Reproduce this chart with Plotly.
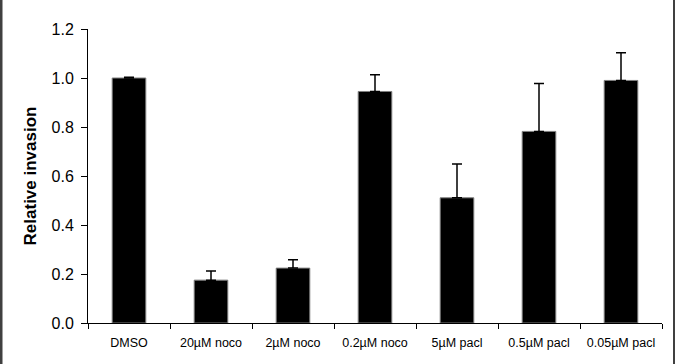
import plotly.graph_objects as go

categories = ["DMSO", "20µM noco", "2µM noco", "0.2µM noco", "5µM pacl", "0.5µM pacl", "0.05µM pacl"]
values = [1.0, 0.175, 0.224, 0.945, 0.511, 0.782, 0.99]
errors = [0.003, 0.037, 0.034, 0.068, 0.138, 0.196, 0.113]
y_ticks = [0.0, 0.2, 0.4, 0.6, 0.8, 1.0, 1.2]
y_tick_labels = ["0.0", "0.2", "0.4", "0.6", "0.8", "1.0", "1.2"]

W, H = 676, 364
ml, mr, mt, mb = 88, 14, 29, 41
pw = W - ml - mr
ph = H - mt - mb

fig = go.Figure()
fig.add_trace(go.Bar(
    x=categories, y=values,
    marker=dict(color="black", line=dict(color="#7f7f7f", width=1)),
    error_y=dict(type="data", array=errors, arrayminus=[0]*len(errors), symmetric=False,
                 color="black", thickness=1.5, width=5),
    width=0.41,
))

fig.update_layout(
    width=W, height=H,
    margin=dict(l=ml, r=mr, t=mt, b=mb),
    paper_bgcolor="white", plot_bgcolor="white",
    showlegend=False,
    font=dict(family="Liberation Sans, Arial, sans-serif", color="black"),
    xaxis=dict(
        type="category", showline=True, linecolor="black", linewidth=1,
        ticks="outside", tickson="boundaries", ticklen=5, tickcolor="black", tickwidth=1,
        tickfont=dict(size=12.5), showgrid=False, zeroline=False,
        ticklabelstandoff=8,
    ),
    yaxis=dict(
        range=[0, 1.2], tickvals=y_ticks, ticktext=y_tick_labels,
        showline=True, linecolor="black", linewidth=1,
        ticks="outside", ticklen=6, tickcolor="black", tickwidth=1,
        tickfont=dict(size=16), showgrid=False, zeroline=False,
        ticklabelstandoff=4,
        title=dict(text="<b>Relative invasion</b>", font=dict(size=17), standoff=10),
    ),
    shapes=[
        dict(type="rect", xref="paper", yref="paper",
             x0=(0 - ml) / pw, x1=(2.5 - ml) / pw, y0=-mb / ph, y1=1 + mt / ph,
             fillcolor="#404040", line=dict(width=0)),
        dict(type="line", xref="paper", yref="paper",
             x0=(674 - ml) / pw, x1=(674 - ml) / pw, y0=-mb / ph, y1=1 + mt / ph,
             line=dict(color="black", width=1.5)),
    ],
)

fig.write_html("out.html", config={"displayModeBar": False},
               post_script="document.body.style.margin='0';document.body.style.overflow='hidden';")
